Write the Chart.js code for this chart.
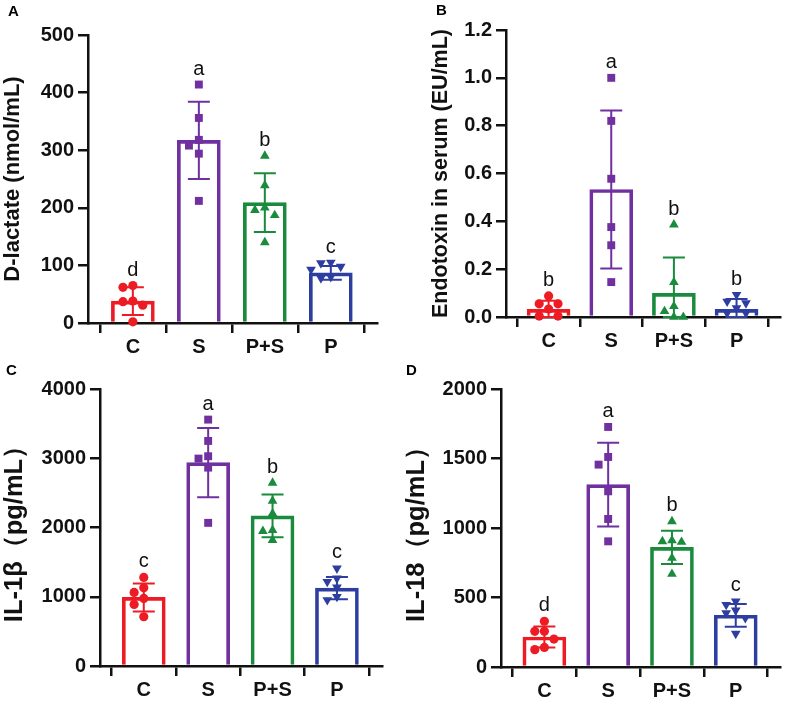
<!DOCTYPE html>
<html>
<head>
<meta charset="utf-8">
<script src="https://cdn.jsdelivr.net/npm/chart.js@4.4.1/dist/chart.umd.min.js"></script>
<style>
    body { margin: 0; background: #fff; width: 786px; height: 703px; position: relative; overflow: hidden; font-family: "Liberation Sans", Arial, sans-serif; }
    .panel { position: absolute; }
    .etiqueta { position: absolute; font-weight: bold; font-size: 15px; color: #000; }
</style>
</head>
<body>
<div class="panel" style="left:0;top:0;width:393px;height:370px"><canvas id="graficoA"></canvas></div>
<div class="panel" style="left:393px;top:0;width:393px;height:370px"><canvas id="graficoB"></canvas></div>
<div class="panel" style="left:0;top:352px;width:393px;height:360px"><canvas id="graficoC"></canvas></div>
<div class="panel" style="left:393px;top:352px;width:393px;height:360px"><canvas id="graficoD"></canvas></div>
<div class="etiqueta" style="left:8px;top:2px">A</div>
<div class="etiqueta" style="left:436px;top:1px">B</div>
<div class="etiqueta" style="left:6px;top:361px">C</div>
<div class="etiqueta" style="left:406px;top:361px">D</div>
<script>
// Grupos y colores
const grupos = ["C", "S", "P+S", "P"];
const colores = ["#ED1C24", "#7030A0", "#1A8A3C", "#2E3EA0"];

// Panel A: D-lactate
const mediasA = [38, 317, 209, 87];
const sdA = [24, 67, 51, 12];
const puntosA = [[65, 62, 38, 37, 31, 2], [414, 356, 318, 308, 294, 212], [290, 239, 200, 196, 187, 140], [105, 104, 98, 93, 80, 78]];
const letrasA = ["d", "a", "b", "c"];
const ticksA = [0, 100, 200, 300, 400, 500];

// Panel B: endotoxina
const mediasB = [0.032, 0.533, 0.099, 0.032];
const sdB = [0.036, 0.33, 0.15, 0.043];
const puntosB = [[0.088, 0.055, 0.055, 0.033, 0.004, 0.004], [1.0, 0.82, 0.578, 0.376, 0.30, 0.146], [0.386, 0.145, 0.045, 0.024, 0, 0], [0.093, 0.065, 0.058, 0.037, 0.017, 0.017]];
const letrasB = ["b", "a", "b", "b"];
const ticksB = [0, 0.2, 0.4, 0.6, 0.8, 1.0, 1.2];

// Panel C: IL-1β
const mediasC = [990, 2937, 2168, 1125];
const sdC = [202, 500, 308, 160];
const puntosC = [[1279, 1130, 1063, 976, 889, 711], [3558, 3250, 3029, 2995, 2865, 2067], [2644, 2385, 2202, 1962, 1947, 1817], [1411, 1266, 1217, 1136, 1001, 953]];
const letrasC = ["c", "a", "b", "c"];
const ticksC = [0, 1000, 2000, 3000, 4000];

// Panel D: IL-18
const mediasD = [216, 1312, 861, 372];
const sdD = [75, 302, 120, 82];
const puntosD = [[329, 257, 257, 201, 141, 125], [1727, 1511, 1456, 1264, 1065, 904], [1048, 911, 904, 899, 784, 669], [472, 448, 408, 388, 353, 240]];
const letrasD = ["d", "a", "b", "c"];
const ticksD = [0, 500, 1000, 1500, 2000];

const FUENTE = "'Liberation Sans', Arial, sans-serif";
const estilos = ["circle", "rect", "triangle", "triangle"];
const giros = [0, 0, 0, 180];
const radios = [4.6, 5.6, 5.6, 5.6];

// Separar puntos que se solapan (como en GraphPad)
function desplazamientos(valores, rango) {
    const umbral = rango * 0.03;
    const opciones = [0, -0.15, 0.15, -0.3, 0.3, -0.45, 0.45];
    const colocados = [];
    return valores.map(v => {
        const dx = opciones.find(o => colocados.every(p => Math.abs(p.v - v) >= umbral || Math.abs(p.dx - o) > 0.14));
        const final = dx === undefined ? 0 : dx;
        colocados.push({ v, dx: final });
        return final;
    });
}

function crearPanel(id, datos) {
    const { medias, sd, puntos, letras, ticks, titulo, tamTitulo, padTitulo, ejeX, arriba, abajo, derecha, alto, decimales } = datos;
    const yMax = ticks[ticks.length - 1];

    const conjuntos = [{
        type: "bar",
        order: 5,
        data: medias.map((m, i) => ({ x: i, y: m })),
        backgroundColor: "rgba(255,255,255,0)",
        borderColor: colores,
        borderWidth: 3,
        barThickness: 43
    }];
    puntos.forEach((grupo, i) => {
        const dx = desplazamientos(grupo, yMax);
        conjuntos.push({
            type: "scatter",
            order: 1,
            clip: false,
            data: grupo.map((v, k) => ({ x: i + dx[k], y: v })),
            pointStyle: estilos[i],
            rotation: giros[i],
            radius: radios[i],
            backgroundColor: colores[i],
            borderColor: colores[i],
            borderWidth: 0
        });
    });

    // Barras de error y letras de significancia
    const pluginError = {
        id: "barrasError",
        afterDatasetDraw(chart, args) {
            if (args.index !== 0) return;
            const { ctx, scales: { x, y } } = chart;
            ctx.save();
            ctx.lineWidth = 2;
            medias.forEach((m, i) => {
                const cx = x.getPixelForValue(i);
                const yArriba = y.getPixelForValue(m + sd[i]);
                const yAbajo = y.getPixelForValue(Math.max(0, m - sd[i]));
                ctx.strokeStyle = colores[i];
                ctx.beginPath();
                ctx.moveTo(cx, yArriba); ctx.lineTo(cx, yAbajo);
                ctx.moveTo(cx - 11, yArriba); ctx.lineTo(cx + 11, yArriba);
                ctx.moveTo(cx - 11, yAbajo); ctx.lineTo(cx + 11, yAbajo);
                ctx.stroke();
            });
            ctx.restore();
        },
        afterDatasetsDraw(chart) {
            const { ctx, scales: { x, y } } = chart;
            ctx.save();
            ctx.fillStyle = "#111";
            ctx.font = "20px " + FUENTE;
            ctx.textAlign = "center";
            ctx.textBaseline = "alphabetic";
            letras.forEach((l, i) => {
                const tope = Math.max(medias[i] + sd[i], ...puntos[i]);
                ctx.fillText(l, x.getPixelForValue(i), y.getPixelForValue(tope) - 10);
            });
            ctx.restore();
        }
    };

    const ejeComun = {
        grid: { drawOnChartArea: false, drawTicks: true, tickLength: 10, color: "#111", lineWidth: 2.5 },
        border: { color: "#111", width: 2.5 }
    };

    return new Chart(document.getElementById(id).getContext("2d"), {
        type: "bar",
        data: { datasets: conjuntos },
        options: {
            responsive: true,
            maintainAspectRatio: false,
            animation: false,
            layout: { padding: { left: 0, top: arriba, right: 393 - derecha, bottom: alto - abajo - 40 } },
            plugins: { legend: { display: false }, tooltip: { enabled: false } },
            scales: {
                x: {
                    ...ejeComun,
                    type: "linear",
                    offset: false,
                    min: -0.68,
                    max: 3.7,
                    afterBuildTicks: s => { s.ticks = grupos.map((g, i) => ({ value: i })); },
                    afterFit: s => { s.height = 40; },
                    ticks: {
                        callback: v => grupos[v],
                        color: "#111",
                        padding: 2,
                        autoSkip: false,
                        maxRotation: 0,
                        font: { family: FUENTE, size: 20, weight: "bold" }
                    }
                },
                y: {
                    ...ejeComun,
                    min: 0,
                    max: yMax,
                    afterBuildTicks: s => { s.ticks = ticks.map(v => ({ value: v })); },
                    afterFit: s => { s.width = ejeX; },
                    ticks: {
                        callback: v => decimales ? v.toFixed(1) : String(v),
                        color: "#111",
                        padding: 4,
                        font: { family: FUENTE, size: 20, weight: "bold" }
                    },
                    title: {
                        display: true,
                        text: titulo,
                        color: "#111",
                        padding: { top: padTitulo, bottom: 0 },
                        font: { family: FUENTE, size: tamTitulo, weight: "bold" }
                    }
                }
            }
        },
        plugins: [pluginError]
    });
}

document.addEventListener("DOMContentLoaded", () => {
    crearPanel("graficoA", { medias: mediasA, sd: sdA, puntos: puntosA, letras: letrasA, ticks: ticksA,
        titulo: "D-lactate (nmol/mL)", tamTitulo: 22, padTitulo: 0, ejeX: 88, arriba: 35, abajo: 323, derecha: 377, alto: 370 });
    crearPanel("graficoB", { medias: mediasB, sd: sdB, puntos: puntosB, letras: letrasB, ticks: ticksB, decimales: true,
        titulo: "Endotoxin in serum (EU/mL)", tamTitulo: 21.5, padTitulo: 35, ejeX: 113, arriba: 30, abajo: 317, derecha: 392, alto: 370 });
    crearPanel("graficoC", { medias: mediasC, sd: sdC, puntos: puntosC, letras: letrasC, ticks: ticksC,
        titulo: "IL-1β（pg/mL）", tamTitulo: 25.5, padTitulo: 0, ejeX: 100, arriba: 37, abajo: 314, derecha: 382, alto: 360 });
    crearPanel("graficoD", { medias: mediasD, sd: sdD, puntos: puntosD, letras: letrasD, ticks: ticksD,
        titulo: "IL-18（pg/mL）", tamTitulo: 25.5, padTitulo: 9, ejeX: 108, arriba: 37, abajo: 315, derecha: 390, alto: 360 });
});
</script>
</body>
</html>
